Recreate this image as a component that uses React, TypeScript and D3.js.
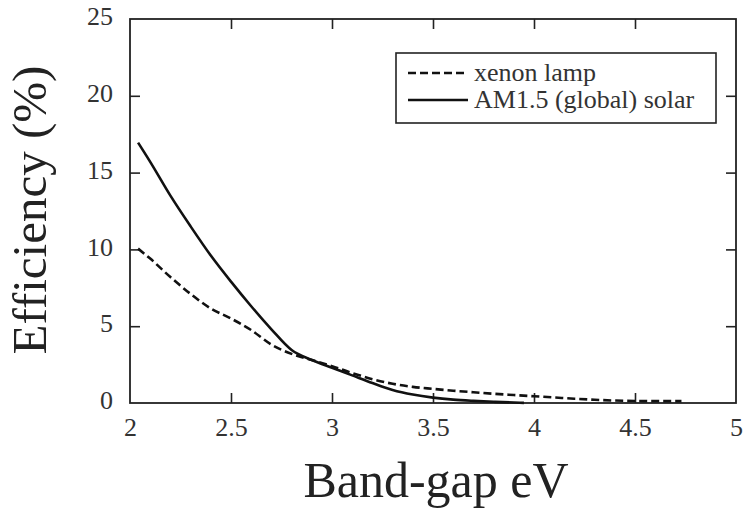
import { useEffect, useRef } from 'react';
import * as d3 from 'd3';

// band-gap (eV) and efficiency (%)
const xenonGap = [2.04, 2.1, 2.2, 2.3, 2.4, 2.5, 2.6, 2.7, 2.8, 2.9, 3.0, 3.1, 3.2, 3.3, 3.4, 3.5, 3.6, 3.7, 3.8, 3.9, 4.0, 4.1, 4.2, 4.3, 4.4, 4.5, 4.6, 4.73];
const xenonEff = [10.05, 9.4, 8.2, 7.1, 6.15, 5.5, 4.75, 3.8, 3.2, 2.8, 2.4, 1.95, 1.55, 1.25, 1.05, 0.92, 0.8, 0.7, 0.6, 0.52, 0.44, 0.36, 0.28, 0.21, 0.16, 0.13, 0.12, 0.12];

const solarGap = [2.04, 2.1, 2.2, 2.3, 2.4, 2.5, 2.6, 2.7, 2.8, 2.9, 3.0, 3.1, 3.2, 3.3, 3.4, 3.5, 3.6, 3.7, 3.8, 3.9, 3.95];
const solarEff = [16.95, 15.7, 13.5, 11.5, 9.6, 7.9, 6.3, 4.8, 3.45, 2.8, 2.3, 1.8, 1.3, 0.85, 0.55, 0.35, 0.22, 0.14, 0.08, 0.03, 0.01];

const xTicks = [2, 2.5, 3, 3.5, 4, 4.5, 5];
const yTicks = [0, 5, 10, 15, 20, 25];

const legendLabels = ['xenon lamp', 'AM1.5 (global) solar'];

const W = 743;
const H = 508;
const m = { left: 130, right: 7, top: 19, bottom: 105 };
const font = "'Liberation Serif', serif";

const App = () => {
  const svgRef = useRef<SVGSVGElement>(null);

  useEffect(() => {
    if (!svgRef.current) return;
    const svg = d3.select(svgRef.current);
    svg.selectAll('*').remove();

    const x = d3.scaleLinear().domain([2, 5]).range([m.left, W - m.right]);
    const y = d3.scaleLinear().domain([0, 25]).range([H - m.bottom, m.top]);

    const styleAxis = (g: any, labels: boolean, dy?: string) => {
      g.attr('font-family', null).style('font-family', font);
      g.select('.domain').remove();
      g.selectAll('line').attr('stroke', '#222').attr('stroke-width', 1.6);
      const t = g.selectAll('text')
        .style('font-family', font)
        .attr('font-size', 26)
        .attr('fill', '#333')
        .style('display', labels ? null : 'none');
      if (dy) t.attr('dy', dy);
    };

    // inner ticks (first/last sit on the frame corners, so they only get labels)
    const inner = (t: number[]) => t.slice(1, -1);
    const ends = (t: number[]) => [t[0], t[t.length - 1]];

    svg.append('g')
      .attr('transform', `translate(0,${y(0)})`)
      .call(d3.axisBottom(x).tickValues(inner(xTicks)).tickSize(-10).tickPadding(15).tickFormat(d => String(d)))
      .call((g: any) => styleAxis(g, true));
    svg.append('g')
      .attr('transform', `translate(0,${y(0)})`)
      .call(d3.axisBottom(x).tickValues(ends(xTicks)).tickSize(0).tickPadding(15).tickFormat(d => String(d)))
      .call((g: any) => styleAxis(g, true));
    svg.append('g')
      .attr('transform', `translate(0,${y(25)})`)
      .call(d3.axisTop(x).tickValues(inner(xTicks)).tickSize(-10))
      .call((g: any) => styleAxis(g, false));

    svg.append('g')
      .attr('transform', `translate(${x(2)},0)`)
      .call(d3.axisLeft(y).tickValues(inner(yTicks)).tickSize(-10).tickPadding(17).tickFormat(d => String(d)))
      .call((g: any) => styleAxis(g, true, '0.22em'));
    svg.append('g')
      .attr('transform', `translate(${x(2)},0)`)
      .call(d3.axisLeft(y).tickValues(ends(yTicks)).tickSize(0).tickPadding(17).tickFormat(d => String(d)))
      .call((g: any) => styleAxis(g, true, '0.22em'));
    svg.append('g')
      .attr('transform', `translate(${x(5)},0)`)
      .call(d3.axisRight(y).tickValues(inner(yTicks)).tickSize(-10))
      .call((g: any) => styleAxis(g, false));

    // frame
    svg.append('rect')
      .attr('x', x(2)).attr('y', y(25))
      .attr('width', x(5) - x(2)).attr('height', y(0) - y(25))
      .attr('fill', 'none').attr('stroke', '#222').attr('stroke-width', 1.8);

    const line = d3.line<[number, number]>()
      .x(d => x(d[0])).y(d => y(d[1]))
      .curve(d3.curveMonotoneX);

    svg.append('path')
      .datum(d3.zip(xenonGap, xenonEff) as [number, number][])
      .attr('d', line)
      .attr('fill', 'none').attr('stroke', '#111').attr('stroke-width', 2.6)
      .attr('stroke-dasharray', '8,4');

    svg.append('path')
      .datum(d3.zip(solarGap, solarEff) as [number, number][])
      .attr('d', line)
      .attr('fill', 'none').attr('stroke', '#111').attr('stroke-width', 2.6);

    // legend
    const lg = svg.append('g').attr('transform', 'translate(396,53)');
    lg.append('rect').attr('width', 320).attr('height', 70)
      .attr('fill', '#fff').attr('stroke', '#222').attr('stroke-width', 1.6);
    legendLabels.forEach((t, i) => {
      const ly = 20 + i * 27;
      lg.append('line').attr('x1', 12).attr('x2', 72).attr('y1', ly).attr('y2', ly)
        .attr('stroke', '#111').attr('stroke-width', 2.6)
        .attr('stroke-dasharray', i === 0 ? '8,4' : null);
      lg.append('text').attr('x', 78).attr('y', ly + 8)
        .style('font-family', font).attr('font-size', 26).attr('fill', '#333')
        .text(t);
    });

    // axis titles
    svg.append('text')
      .attr('x', (x(2) + x(5)) / 2 + 3).attr('y', 497)
      .attr('text-anchor', 'middle')
      .style('font-family', font).attr('font-size', 50).attr('fill', '#222')
      .text('Band-gap eV');
    svg.append('text')
      .attr('transform', 'translate(46,210) rotate(-90)')
      .attr('text-anchor', 'middle')
      .style('font-family', font).attr('font-size', 49).attr('fill', '#222')
      .text('Efficiency (%)');
  }, []);

  return (
    <svg ref={svgRef} width={W} height={H}
      style={{ position: 'absolute', left: 0, top: 0, background: '#fff' }} />
  );
};

export default App;
